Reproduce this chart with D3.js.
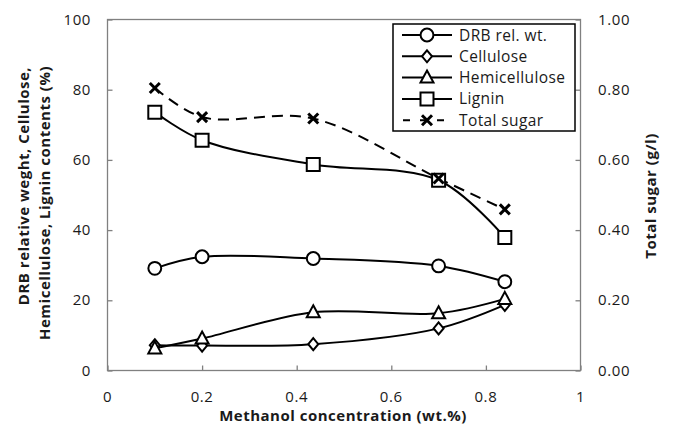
<!DOCTYPE html>
<html>
<head>
<meta charset="utf-8">
<script src="https://cdn.jsdelivr.net/npm/d3@7"></script>
<style>
  html, body { margin: 0; padding: 0; background: #fff; }
  svg { display: block; font-family: "Open Sans", Lato, sans-serif; }
</style>
</head>
<body>
<svg id="chart" width="674" height="427"></svg>
<script>
// Methanol concentration (wt.%) at each sample
const methanol = [0.1, 0.2, 0.435, 0.7, 0.84];

// Left-axis series (%)
const drbWeight     = [29.1, 32.4, 31.9, 29.8, 25.3];
const cellulose     = [7.2, 7.1, 7.5, 12.0, 18.7];
const hemicellulose = [6.3, 9.1, 16.6, 16.3, 20.4];
const lignin        = [73.6, 65.6, 58.7, 54.2, 37.9];

// Right-axis series (g/l)
const totalSugar = [0.805, 0.722, 0.718, 0.547, 0.459];

// Tick labels
const xTicks = [0, 0.2, 0.4, 0.6, 0.8, 1];
const yLeftTicks = [0, 20, 40, 60, 80, 100];
const yRightTicks = [0, 0.2, 0.4, 0.6, 0.8, 1.0];

const legendNames = ["DRB rel. wt.", "Cellulose", "Hemicellulose", "Lignin", "Total sugar"];

const svg = d3.select("#chart");
const plot = { left: 107.5, right: 580.5, top: 19.5, bottom: 370.5 };
const textColor = "#1a1a1a";
const axisColor = "#808080";

const x = d3.scaleLinear().domain([0, 1]).range([plot.left, plot.right]);
const yL = d3.scaleLinear().domain([0, 100]).range([plot.bottom, plot.top]);
const yR = d3.scaleLinear().domain([0, 1]).range([plot.bottom, plot.top]);

// Plot frame
svg.append("rect")
  .attr("x", plot.left).attr("y", plot.top)
  .attr("width", plot.right - plot.left).attr("height", plot.bottom - plot.top)
  .attr("fill", "none").attr("stroke", axisColor).attr("stroke-width", 1.3);

// Axes with inward ticks
const axisBottom = d3.axisTop(x).tickValues(xTicks).tickSize(5).tickFormat("");
const axisLeft = d3.axisRight(yL).tickValues(yLeftTicks).tickSize(5).tickFormat("");
const axisRight = d3.axisLeft(yR).tickValues(yRightTicks).tickSize(5).tickFormat("");

function styleAxis(g) {
  g.select(".domain").remove();
  g.selectAll(".tick line").attr("stroke", axisColor).attr("stroke-width", 1.3);
}
svg.append("g").attr("transform", `translate(0,${plot.bottom})`).call(axisBottom).call(styleAxis);
svg.append("g").attr("transform", `translate(${plot.left},0)`).call(axisLeft).call(styleAxis);
svg.append("g").attr("transform", `translate(${plot.right},0)`).call(axisRight).call(styleAxis);

// Tick labels
const tickFont = 15;
const tickSpacing = "0.6px";
svg.append("g").selectAll("text").data(xTicks).join("text")
  .attr("x", d => x(d)).attr("y", 402)
  .attr("text-anchor", "middle").attr("font-size", tickFont).attr("fill", textColor)
  .attr("letter-spacing", tickSpacing)
  .text(d => d === 0 || d === 1 ? d3.format("d")(d) : d3.format(".1f")(d));
svg.append("g").selectAll("text").data(yLeftTicks).join("text")
  .attr("x", 91).attr("y", d => yL(d) + 5)
  .attr("text-anchor", "end").attr("font-size", tickFont).attr("fill", textColor)
  .attr("letter-spacing", tickSpacing)
  .text(d => d);
svg.append("g").selectAll("text").data(yRightTicks).join("text")
  .attr("x", 598).attr("y", d => yR(d) + 5)
  .attr("text-anchor", "start").attr("font-size", tickFont).attr("fill", textColor)
  .attr("letter-spacing", tickSpacing)
  .text(d => d3.format(".2f")(d));

// Axis titles
const titleFont = 15;
const titleSpacing = "0.5px";
function title(transform, anchorX, anchorY, label) {
  return svg.append("text")
    .attr("x", anchorX).attr("y", anchorY)
    .attr("transform", transform).attr("text-anchor", "middle")
    .attr("font-size", titleFont).attr("font-weight", "bold")
    .attr("letter-spacing", titleSpacing).attr("fill", textColor)
    .text(label);
}
title(null, 343, 421, "Methanol concentration (wt.%)");
title("translate(29,186) rotate(-90)", 0, 0, "DRB relative weght, Cellulose,");
title("translate(50,203) rotate(-90)", 0, 0, "Hemicellulose, Lignin contents (%)");
title("translate(656,196) rotate(-90)", 0, 0, "Total sugar (g/l)");

// Series definitions
const series = [
  { name: legendNames[0], values: drbWeight, y: yL, marker: "circle", dash: null },
  { name: legendNames[1], values: cellulose, y: yL, marker: "diamond", dash: null },
  { name: legendNames[2], values: hemicellulose, y: yL, marker: "triangle", dash: null },
  { name: legendNames[3], values: lignin, y: yL, marker: "square", dash: null },
  { name: legendNames[4], values: totalSugar, y: yR, marker: "cross", dash: "11,7" }
];

const symbolPaths = {
  circle: d3.symbol(d3.symbolCircle, 130)(),
  diamond: "M0,-6L5,0L0,6L-5,0Z",
  triangle: "M0,-7L6.5,5L-6.5,5Z",
  square: "M-6.5,-6.5H6.5V6.5H-6.5Z",
  cross: "M-5,-5L5,5M-5,5L5,-5"
};

function drawMarker(g, type, cx, cy) {
  const p = g.append("path")
    .attr("d", symbolPaths[type])
    .attr("transform", `translate(${cx},${cy})`)
    .attr("stroke", "#000");
  if (type === "cross") {
    p.attr("fill", "none").attr("stroke-width", 3);
  } else {
    p.attr("fill", "#fff").attr("stroke-width", 2);
  }
}

const lineGroup = svg.append("g");
const markerGroup = svg.append("g");
series.forEach(s => {
  const pts = methanol.map((m, i) => [x(m), s.y(s.values[i])]);
  lineGroup.append("path")
    .attr("d", d3.line().curve(d3.curveCatmullRom.alpha(0.5))(pts))
    .attr("fill", "none").attr("stroke", "#000").attr("stroke-width", 2)
    .attr("stroke-dasharray", s.dash);
  pts.forEach(p => drawMarker(markerGroup, s.marker, p[0], p[1]));
});

// Legend
const legend = svg.append("g");
legend.append("rect")
  .attr("x", 393).attr("y", 24).attr("width", 182).attr("height", 107)
  .attr("fill", "#fff").attr("stroke", "#000").attr("stroke-width", 1.5);
series.forEach((s, i) => {
  const cy = 35 + i * 21.3;
  legend.append("line")
    .attr("x1", 402).attr("x2", 452).attr("y1", cy).attr("y2", cy)
    .attr("stroke", "#000").attr("stroke-width", 2)
    .attr("stroke-dasharray", s.dash ? "7,10" : null)
    .attr("stroke-dashoffset", s.dash ? -1 : null);
  drawMarker(legend, s.marker, 427, cy);
  legend.append("text")
    .attr("x", 459).attr("y", cy + 5.5)
    .attr("font-size", 15.5).attr("letter-spacing", "0.4px").attr("fill", textColor)
    .text(s.name);
});
</script>
</body>
</html>
